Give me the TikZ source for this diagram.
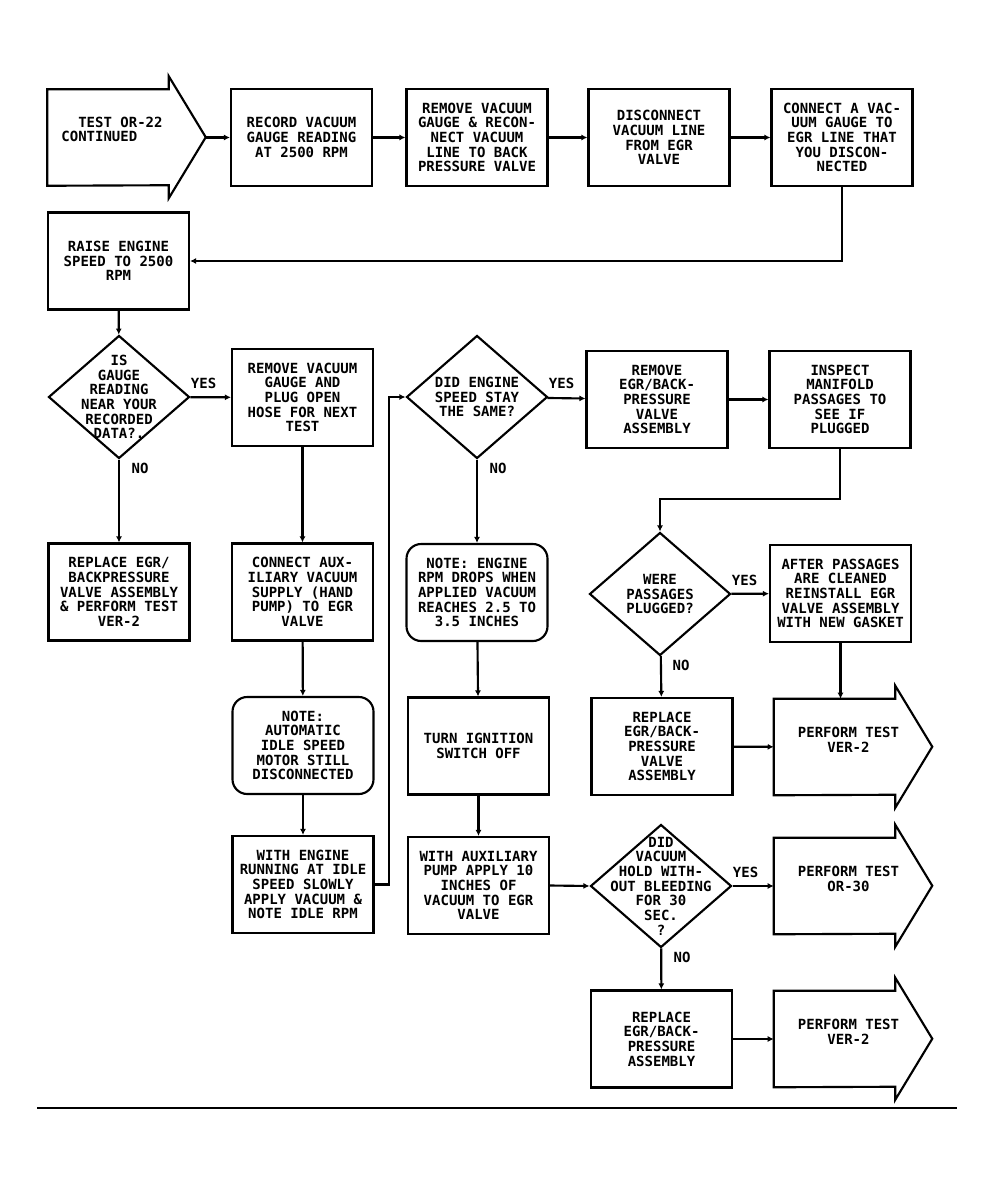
\documentclass[tikz,border=0pt]{standalone}
\usepackage{fontspec}
\newfontfamily\plotfont{DejaVu Sans Mono}
\usetikzlibrary{shapes.geometric,arrows.meta,calc}
\newcommand{\plotsize}{\plotfont\bfseries\fontsize{10.5}{11}\selectfont}
\newcommand{\flagoutline}[1]{%
	\draw[flagline] (#1.south west) -- (#1.north west) -- (#1.north east) -- ++(0,-13) -- ++(37,61) -- ++(-37,61) -- ++(0,-13) -- cycle;}
\begin{document}
\begin{tikzpicture}[x=0.75pt,y=-0.75pt,
	box/.style={draw,line width=1.6pt,minimum width=105.75pt,minimum height=72.75pt,align=center,inner sep=2pt,font=\plotsize},
	note/.style={box,rounded corners=11pt},
	query/.style={draw,line width=1.6pt,shape=diamond,minimum width=105.75pt,minimum height=92.25pt,inner sep=0pt},
	qtext/.style={align=center,inner sep=0pt,font=\plotsize},
	flagbody/.style={minimum width=90.75pt,minimum height=72pt,inner sep=0pt},
	flagline/.style={line width=1.6pt,line join=miter},
	link/.style={line width=1.6pt,-{Latex[length=4.5pt,width=4.5pt]}},
	ans/.style={inner sep=0pt,font=\plotsize}]
	\useasboundingbox (0,0) rectangle (991,1184);

	% top row
	\node[flagbody] (start) at (108,137.5) {};
	\flagoutline{start}
	\node[qtext,align=left] (starttxt) at ([shift={(4,-8)}]start) {\ \ TEST OR-22\\CONTINUED};
	\coordinate (starttip) at ($(start.east)+(37,0)$);
	\node[box] (record) at (301.5,137.5) {RECORD VACUUM\\GAUGE READING\\AT 2500 RPM};
	\node[box] (regauge) at (477,137.5) {REMOVE VACUUM\\GAUGE \& RECON-\\NECT VACUUM\\LINE TO BACK\\PRESSURE VALVE};
	\node[box] (discon) at (659,137.5) {DISCONNECT\\VACUUM LINE\\FROM EGR\\VALVE};
	\node[box] (congauge) at (842,137.5) {CONNECT A VAC-\\UUM GAUGE TO\\EGR LINE THAT\\YOU DISCON-\\NECTED};
	\node[box] (raise) at (118.5,261) {RAISE ENGINE\\SPEED TO 2500\\RPM};

	% second row
	\node[query] (isgauge) at (119,397) {};
	\node[qtext] (isgaugetxt) at (isgauge) {IS\\GAUGE\\READING\\NEAR YOUR\\RECORDED\\DATA?.};
	\node[box] (replug) at (302.5,397.5) {REMOVE VACUUM\\GAUGE AND\\PLUG OPEN\\HOSE FOR NEXT\\TEST};
	\node[query] (samespeed) at (477,397) {};
	\node[qtext] (samespeedtxt) at (samespeed) {DID ENGINE\\SPEED STAY\\THE SAME?};
	\node[box] (removeegr) at (657,399.5) {REMOVE\\EGR/BACK-\\PRESSURE\\VALVE\\ASSEMBLY};
	\node[box] (inspect) at (840,399.5) {INSPECT\\MANIFOLD\\PASSAGES TO\\SEE IF\\PLUGGED};

	% third row
	\node[box] (replaceone) at (119,592) {REPLACE EGR/\\BACKPRESSURE\\VALVE ASSEMBLY\\\& PERFORM TEST\\VER-2};
	\node[box] (conaux) at (302.5,592) {CONNECT AUX-\\ILIARY VACUUM\\SUPPLY (HAND\\PUMP) TO EGR\\VALVE};
	\node[note] (noterpm) at (477,592.5) {NOTE: ENGINE\\RPM DROPS WHEN\\APPLIED VACUUM\\REACHES 2.5 TO\\3.5 INCHES};
	\node[query] (plugged) at (660,594) {};
	\node[qtext] (pluggedtxt) at (plugged) {WERE\\PASSAGES\\PLUGGED?};
	\node[box] (afterpass) at (840.5,593.5) {AFTER PASSAGES\\ARE CLEANED\\REINSTALL EGR\\VALVE ASSEMBLY\\WITH NEW GASKET};

	% fourth row
	\node[note] (noteidle) at (303,745.5) {NOTE:\\AUTOMATIC\\IDLE SPEED\\MOTOR STILL\\DISCONNECTED};
	\node[box] (turnoff) at (478.5,746) {TURN IGNITION\\SWITCH OFF};
	\node[box] (replacetwo) at (662,746.5) {REPLACE\\EGR/BACK-\\PRESSURE\\VALVE\\ASSEMBLY};
	\node[flagbody] (verone) at (834.5,747) {};
	\flagoutline{verone}
	\node[qtext] (veronetxt) at ([shift={(14,-7)}]verone) {PERFORM TEST\\VER-2};

	% fifth row
	\node[box] (withengine) at (303,884.5) {WITH ENGINE\\RUNNING AT IDLE\\SPEED SLOWLY\\APPLY VACUUM \&\\NOTE IDLE RPM};
	\node[box] (withaux) at (478.5,885.5) {WITH AUXILIARY\\PUMP APPLY 10\\INCHES OF\\VACUUM TO EGR\\VALVE};
	\node[query] (holdvac) at (661,886) {};
	\node[qtext] (holdvactxt) at (holdvac) {DID\\VACUUM\\HOLD WITH-\\OUT BLEEDING\\FOR 30\\SEC.\\?};
	\node[flagbody] (orthirty) at (834.5,886) {};
	\flagoutline{orthirty}
	\node[qtext] (orthirtytxt) at ([shift={(14,-7)}]orthirty) {PERFORM TEST\\OR-30};

	% last row
	\node[box] (replacethree) at (661.5,1039) {REPLACE\\EGR/BACK-\\PRESSURE\\ASSEMBLY};
	\node[flagbody] (vertwo) at (834.5,1039) {};
	\flagoutline{vertwo}
	\node[qtext] (vertwotxt) at ([shift={(14,-7)}]vertwo) {PERFORM TEST\\VER-2};

	% answers
	\node[ans] (yesa) at ([shift={(13,-14)}]isgauge.east) {YES};
	\node[ans] (noa) at ([shift={(21,9)}]isgauge.south) {NO};
	\node[ans] (yesb) at ([shift={(13,-14)}]samespeed.east) {YES};
	\node[ans] (nob) at ([shift={(21,9)}]samespeed.south) {NO};
	\node[ans] (yesc) at ([shift={(13,-14)}]plugged.east) {YES};
	\node[ans] (noc) at ([shift={(21,9)}]plugged.south) {NO};
	\node[ans] (yesd) at ([shift={(13,-14)}]holdvac.east) {YES};
	\node[ans] (nod) at ([shift={(21,9)}]holdvac.south) {NO};

	% connectors
	\draw[link] (starttip) -- (record.west);
	\draw[link] (record) -- (regauge);
	\draw[link] (regauge) -- (discon);
	\draw[link] (discon) -- (congauge);
	\draw[link] (congauge.south) |- (raise.east);
	\draw[link] (raise) -- (isgauge);
	\draw[link] (isgauge) -- (replug);
	\draw[link] (isgauge) -- (replaceone);
	\draw[link] (replug) -- (conaux);
	\draw[link] (conaux) -- (noteidle);
	\draw[link] (noteidle) -- (withengine);
	\draw[link] (withengine.east) -- ++(14,0) |- (samespeed.west);
	\draw[link] (samespeed) -- (removeegr);
	\draw[link] (samespeed) -- (noterpm);
	\draw[link] (removeegr) -- (inspect);
	\draw[link] (inspect.south) -- ++(0,50) -| (plugged.north);
	\draw[link] (plugged) -- (afterpass);
	\draw[link] (plugged) -- (replacetwo);
	\draw[link] (afterpass.south) -- (afterpass.south |- verone.north);
	\draw[link] (replacetwo) -- (verone);
	\draw[link] (noterpm) -- (turnoff);
	\draw[link] (turnoff) -- (withaux);
	\draw[link] (withaux.east) -- (holdvac.west);
	\draw[link] (holdvac) -- (orthirty);
	\draw[link] (holdvac) -- (replacethree);
	\draw[link] (replacethree) -- (vertwo);

	\draw[line width=1pt] (37,1108) -- (957,1108);
\end{tikzpicture}
\end{document}
